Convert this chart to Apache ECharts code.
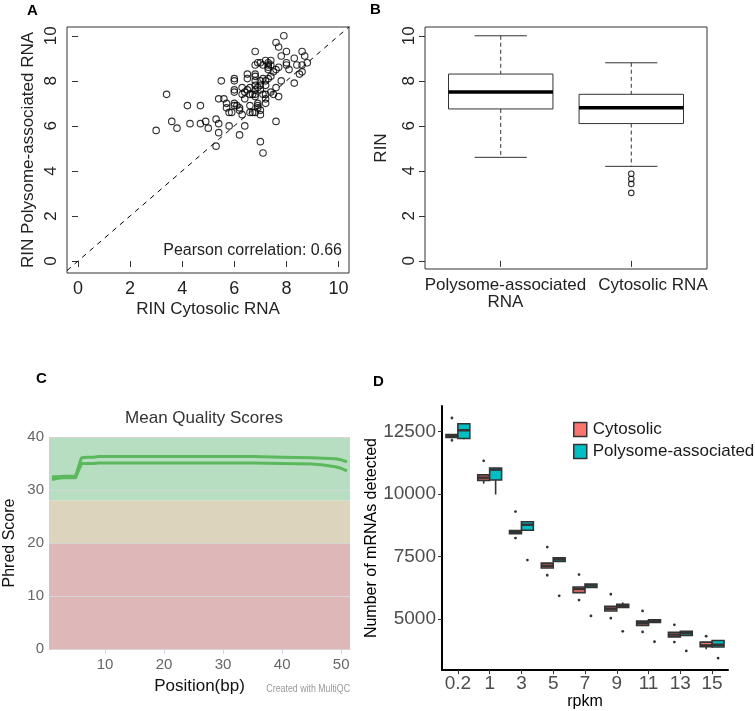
<!DOCTYPE html>
<html><head><meta charset="utf-8">
<script src="https://cdn.jsdelivr.net/npm/echarts@6/dist/echarts.min.js"></script>
<style>html,body{margin:0;padding:0;background:#fff}#c{width:755px;height:711px}</style>
</head><body><div id="c"></div>
<script>
// ---------------- DATA ----------------
// Panel A: RIN scatter
const rinCytosolic = [3.0,3.4,3.6,3.8,4.2,4.3,4.7,4.7,4.9,5.0,5.3,5.4,5.4,5.3,5.4,5.5,5.6,5.7,5.7,5.8,5.9,5.8,6.0,6.0,6.0,6.0,6.0,6.0,6.1,6.2,6.2,6.2,6.3,6.3,6.3,6.4,6.4,6.4,6.5,6.5,6.6,6.6,6.6,6.6,6.7,6.7,6.8,6.8,6.8,6.8,6.8,6.8,6.8,6.8,6.8,6.8,6.9,6.9,6.9,6.9,7.0,7.0,7.0,7.0,7.0,7.0,7.1,7.1,7.1,7.1,7.2,7.2,7.2,7.2,7.2,7.2,7.3,7.3,7.3,7.3,7.4,7.4,7.4,7.5,7.5,7.6,7.6,7.6,7.6,7.7,7.7,7.7,7.8,7.8,7.9,8.0,8.0,8.0,8.1,8.3,8.3,8.4,8.5,8.6,8.6,8.6,8.7,8.8,6.9,7.3,6.5,7.0,7.4];
const rinPolysome  = [5.8,7.4,6.2,5.9,6.9,6.1,6.9,6.1,6.2,5.9,6.3,6.1,5.7,5.1,7.2,8.0,7.2,7.0,6.8,6.6,6.6,6.0,8.1,8.0,7.6,7.5,7.0,6.9,6.9,6.8,6.7,5.6,6.5,7.7,7.4,6.0,7.2,7.5,8.3,8.1,7.4,7.7,6.9,6.6,6.6,7.4,9.3,8.7,8.3,8.2,8.0,7.8,7.6,7.4,7.3,6.6,7.7,7.0,6.9,6.8,8.8,8.0,7.6,6.7,6.5,5.3,4.8,8.1,7.4,8.7,8.9,8.0,7.8,7.4,7.2,7.0,8.8,8.6,8.5,8.1,8.9,8.7,8.2,8.4,7.4,9.7,8.5,7.7,6.2,9.5,8.6,7.3,9.1,8.0,10.0,9.3,8.8,8.7,8.5,9.0,7.9,8.7,8.3,9.3,8.7,8.4,9.1,8.8,8.8,8.7,7.6,7.8,7.5];
const identityLine = [[-1,-1],[11,11]];
const pearsonText = 'Pearson correlation: 0.66';

// Panel B: RIN boxplots  [x, lowerWhisker, Q1, median, Q3, upperWhisker]
const rinGroups = ['Polysome-associated\nRNA', 'Cytosolic RNA'];
const rinBoxes = [[1, 4.6, 6.75, 7.5, 8.3, 10.0], [2, 4.2, 6.1, 6.8, 7.4, 8.8]];
const rinOutliers = [[2, 3.87], [2, 3.64], [2, 3.42], [2, 3.02]];

// Panel C: Mean Quality Scores (FastQC / MultiQC)
const qcPositions = [1,2,3,4,5,6,7,8,9,10,15,20,25,30,35,40,45,47,49,50,51];
const qcSampleA = [32.5,32.5,32.6,32.6,32.6,36.1,36.2,36.2,36.3,36.3,36.3,36.3,36.3,36.3,36.3,36.2,36.1,36.0,35.9,35.7,35.3];
const qcSampleB = [32.0,32.2,32.3,32.3,32.3,35.0,35.0,35.0,35.1,35.1,35.1,35.1,35.1,35.1,35.1,35.0,34.9,34.7,34.4,34.1,33.6];
const phredBands = [[0, 20], [20, 28], [28, 40]];

// Panel D: mRNAs detected per rpkm threshold  [lowerWhisker, Q1, median, Q3, upperWhisker]
const rpkmCats = ['0.2','1','3','5','7','9','11','13','15'];
const cytoBoxes = [
  [12220,12250,12300,12370,12380],
  [10410,10540,10650,10760,10760],
  [8405,8410,8470,8535,8535],
  [7042,7042,7133,7238,7238],
  [6060,6060,6204,6283,6283],
  [5327,5327,5418,5510,5510],
  [4751,4751,4842,4921,4921],
  [4293,4293,4384,4476,4476],
  [3795,3900,3952,4083,4083]
];
const polyBoxes = [
  [12180,12213,12540,12802,12802],
  [9975,10553,10970,11035,11035],
  [8550,8550,8770,8890,8890],
  [7303,7303,7382,7447,7447],
  [6270,6270,6348,6400,6400],
  [5471,5471,5535,5589,5667],
  [4869,4869,4921,4974,5000],
  [4345,4345,4437,4515,4515],
  [3887,3887,3978,4148,4148]
];
const cytoOutliers = [['0.2',13030],['0.2',12140],['1',11322],['3',9296],['3',8236],['5',7879],['5',6753],['7',6780],['7',5759],['9',5994],['9',5039],['11',5327],['11',4489],['13',4772],['13',4083],['15',4319]];
const polyOutliers = [['3',7357],['5',5929],['7',5130],['9',4515],['11',4096],['13',3730],['15',3442]];

// ---------------- CHART ----------------
const FF = 'Liberation Sans, Arial, sans-serif';
const chart = echarts.init(document.getElementById('c'), null, {renderer: 'canvas'});

function rBox(params, api) {
  const x = api.value(0);
  const y = v => api.coord([x, v])[1];
  const cx = api.coord([x, api.value(3)])[0];
  const unit = api.size([1, 0])[0];
  const hw = unit * 0.4, cw = unit * 0.2;
  const lo = y(api.value(1)), q1 = y(api.value(2)), med = y(api.value(3)), q3 = y(api.value(4)), hi = y(api.value(5));
  const thin = {stroke: '#333', lineWidth: 1};
  return {type: 'group', children: [
    {type: 'line', shape: {x1: cx, y1: hi, x2: cx, y2: q3}, style: {stroke: '#333', lineWidth: 1, lineDash: [4, 3]}},
    {type: 'line', shape: {x1: cx, y1: q1, x2: cx, y2: lo}, style: {stroke: '#333', lineWidth: 1, lineDash: [4, 3]}},
    {type: 'line', shape: {x1: cx - cw, y1: hi, x2: cx + cw, y2: hi}, style: thin},
    {type: 'line', shape: {x1: cx - cw, y1: lo, x2: cx + cw, y2: lo}, style: thin},
    {type: 'rect', shape: {x: cx - hw, y: q3, width: 2 * hw, height: q1 - q3}, style: {fill: '#fff', stroke: '#333', lineWidth: 1}},
    {type: 'line', shape: {x1: cx - hw, y1: med, x2: cx + hw, y2: med}, style: {stroke: '#000', lineWidth: 3.5}}
  ]};
}

function ggBox(offset, fill) {
  return function (params, api) {
    const ci = api.value(0);
    const band = api.size([1, 0])[0];
    const cx = api.coord([ci, api.value(3)])[0] + offset * band;
    const hw = band * 0.1875;
    const y = v => api.coord([ci, v])[1];
    const lo = y(api.value(1)), q1 = y(api.value(2)), med = y(api.value(3)), q3 = y(api.value(4)), hi = y(api.value(5));
    const st = {stroke: '#333', lineWidth: 1.6};
    return {type: 'group', children: [
      {type: 'line', shape: {x1: cx, y1: hi, x2: cx, y2: q3}, style: st},
      {type: 'line', shape: {x1: cx, y1: q1, x2: cx, y2: lo}, style: st},
      {type: 'rect', shape: {x: cx - hw, y: q3, width: 2 * hw, height: Math.max(q1 - q3, 0.5)}, style: {fill: fill, stroke: '#333', lineWidth: 1.6}},
      {type: 'line', shape: {x1: cx - hw, y1: med, x2: cx + hw, y2: med}, style: {stroke: '#333', lineWidth: 2.5}}
    ]};
  };
}
function ggOut(offset) {
  return function (params, api) {
    const ci = api.value(0);
    const band = api.size([1, 0])[0];
    const p = api.coord([ci, api.value(1)]);
    return {type: 'circle', shape: {cx: p[0] + offset * band, cy: p[1], r: 1.4}, style: {fill: '#333'}};
  };
}

const CYTO = '#F8766D', POLY = '#00BFC4';

const option = {
  animation: false,
  backgroundColor: '#fff',
  textStyle: {fontFamily: FF},
  title: [{text: 'Mean Quality Scores', left: 199, top: 405, textAlign: 'center',
           textStyle: {fontFamily: FF, fontSize: 17, fontWeight: 'normal', color: '#333'}}],
  legend: {data: ['Cytosolic', 'Polysome-associated'], orient: 'vertical', left: 573, top: 421, padding: 0,
           itemGap: 5, itemWidth: 13, itemHeight: 14, icon: 'rect',
           itemStyle: {borderColor: '#333', borderWidth: 1.5},
           textStyle: {fontFamily: FF, fontSize: 17, color: '#1a1a1a', padding: [0, 0, 0, 1]}},
  grid: [
    {left: 67, top: 27, width: 282, height: 246, show: true, borderColor: '#333', borderWidth: 1, backgroundColor: 'transparent'},
    {left: 425, top: 27, width: 282, height: 242, show: true, borderColor: '#333', borderWidth: 1, backgroundColor: 'transparent'},
    {left: 49, top: 437, width: 301, height: 212},
    {left: 442, top: 406, width: 286, height: 268}
  ],
  xAxis: [
    {type: 'value', gridIndex: 0, min: -0.42, max: 10.4, splitLine: {show: false}, axisLine: {show: false},
     axisTick: {show: true, customValues: [0,2,4,6,8,10], length: 6, lineStyle: {color: '#333'}},
     axisLabel: {customValues: [0,2,4,6,8,10], fontSize: 18, color: '#222', margin: 7, fontFamily: FF},
     name: 'RIN Cytosolic RNA', nameLocation: 'middle', nameGap: 28, nameTextStyle: {fontSize: 17, color: '#222', fontFamily: FF}},
    {type: 'value', gridIndex: 1, min: 0.42, max: 2.58, splitLine: {show: false}, axisLine: {show: false},
     axisTick: {show: true, customValues: [1, 2], length: 6, lineStyle: {color: '#333'}},
     axisLabel: {customValues: [1.036, 2.166], fontSize: 17, lineHeight: 17, color: '#222', margin: 8, fontFamily: FF,
                 formatter: v => rinGroups[Math.round(v) - 1]}},
    {type: 'value', gridIndex: 2, min: 0.5, max: 51.5, splitLine: {show: false},
     axisLine: {show: true, lineStyle: {color: '#ccd6eb', width: 1}},
     axisTick: {show: true, customValues: [10,20,30,40,50], length: 5, lineStyle: {color: '#ccd6eb'}},
     axisLabel: {customValues: [10,20,30,40,50], fontSize: 15, color: '#666', margin: 8, fontFamily: FF},
     name: 'Position(bp)', nameLocation: 'middle', nameGap: 29, nameTextStyle: {fontSize: 17, color: '#111', fontFamily: FF}},
    {type: 'category', gridIndex: 3, data: rpkmCats, boundaryGap: true,
     axisLine: {show: true, lineStyle: {color: '#000', width: 2}},
     axisTick: {show: true, alignWithLabel: true, length: 4, lineStyle: {color: '#333', width: 1}},
     axisLabel: {fontSize: 19, color: '#4d4d4d', margin: 4, fontFamily: FF, interval: 0},
     name: 'rpkm', nameLocation: 'middle', nameGap: 18, nameTextStyle: {fontSize: 16, color: '#000', fontFamily: FF}}
  ],
  yAxis: [
    {type: 'value', gridIndex: 0, min: -0.53, max: 10.39, splitLine: {show: false}, axisLine: {show: false},
     axisTick: {show: true, customValues: [0,2,4,6,8,10], length: 6, lineStyle: {color: '#333'}},
     axisLabel: {customValues: [0,2,4,6,8,10], rotate: 90, fontSize: 17, color: '#222', margin: 7, fontFamily: FF},
     name: 'RIN Polysome-associated RNA', nameLocation: 'middle', nameGap: 30, nameTextStyle: {fontSize: 17, color: '#222', fontFamily: FF}},
    {type: 'value', gridIndex: 1, min: -0.36, max: 10.39, splitLine: {show: false}, axisLine: {show: false},
     axisTick: {show: true, customValues: [0,2,4,6,8,10], length: 6, lineStyle: {color: '#333'}},
     axisLabel: {customValues: [0,2,4,6,8,10], rotate: 90, fontSize: 17, color: '#222', margin: 7, fontFamily: FF},
     name: 'RIN', nameLocation: 'middle', nameGap: 35, nameTextStyle: {fontSize: 17, color: '#222', fontFamily: FF}},
    {type: 'value', gridIndex: 2, min: 0, max: 40, interval: 10, z: 3,
     splitLine: {show: true, lineStyle: {color: '#d6d6d6', width: 1}}, axisLine: {show: false}, axisTick: {show: false},
     axisLabel: {fontSize: 15, color: '#666', margin: 5, fontFamily: FF},
     name: 'Phred Score', nameLocation: 'middle', nameGap: 31, nameTextStyle: {fontSize: 16, color: '#111', fontFamily: FF}},
    {type: 'value', gridIndex: 3, min: 2965, max: 13510, splitLine: {show: false},
     axisLine: {show: true, lineStyle: {color: '#000', width: 2}},
     axisTick: {show: true, customValues: [5000,7500,10000,12500], length: 4, lineStyle: {color: '#333'}},
     axisLabel: {customValues: [5000,7500,10000,12500], fontSize: 19, color: '#4d4d4d', margin: 6, fontFamily: FF,
                 formatter: v => String(v)},
     name: 'Number of mRNAs detected', nameLocation: 'middle', nameGap: 57, nameTextStyle: {fontSize: 16, color: '#000', fontFamily: FF}}
  ],
  series: [
    // A
    {type: 'line', xAxisIndex: 0, yAxisIndex: 0, data: identityLine, symbol: 'none', silent: true,
     lineStyle: {color: '#000', width: 1, type: [5, 5]}, clip: true},
    {type: 'scatter', xAxisIndex: 0, yAxisIndex: 0, data: rinCytosolic.map((x, i) => [x, rinPolysome[i]]),
     symbol: 'circle', symbolSize: 6.5, itemStyle: {color: 'rgba(0,0,0,0)', borderColor: '#000', borderWidth: 1.1}},
    // B
    {type: 'custom', xAxisIndex: 1, yAxisIndex: 1, data: rinBoxes, renderItem: rBox, encode: {x: 0, y: [1,2,3,4,5]}},
    {type: 'scatter', xAxisIndex: 1, yAxisIndex: 1, data: rinOutliers, symbol: 'circle', symbolSize: 5.5,
     itemStyle: {color: 'rgba(0,0,0,0)', borderColor: '#000', borderWidth: 1.1}},
    // C
    {type: 'line', xAxisIndex: 2, yAxisIndex: 2, data: [], z: 1, silent: true,
     markArea: {silent: true, data: phredBands.map((b, i) => [
       {yAxis: b[0], itemStyle: {color: ['#deb8b9', '#ddd4bd', '#b8dec2'][i]}}, {yAxis: b[1]}])}},
    {type: 'line', xAxisIndex: 2, yAxisIndex: 2, z: 4, data: qcPositions.map((p, i) => [p, qcSampleA[i]]),
     symbol: 'none', lineStyle: {color: '#5cb85c', width: 3}},
    {type: 'line', xAxisIndex: 2, yAxisIndex: 2, z: 4, data: qcPositions.map((p, i) => [p, qcSampleB[i]]),
     symbol: 'none', lineStyle: {color: '#5cb85c', width: 3}},
    // D
    {name: 'Cytosolic', type: 'custom', xAxisIndex: 3, yAxisIndex: 3, itemStyle: {color: CYTO},
     data: cytoBoxes.map((b, i) => [i].concat(b)), renderItem: ggBox(-0.1875, CYTO), encode: {x: 0, y: [1,2,3,4,5]}},
    {name: 'Polysome-associated', type: 'custom', xAxisIndex: 3, yAxisIndex: 3, itemStyle: {color: POLY},
     data: polyBoxes.map((b, i) => [i].concat(b)), renderItem: ggBox(0.1875, POLY), encode: {x: 0, y: [1,2,3,4,5]}},
    {name: 'cyto-out', type: 'custom', xAxisIndex: 3, yAxisIndex: 3,
     data: cytoOutliers.map(o => [rpkmCats.indexOf(o[0]), o[1]]), renderItem: ggOut(-0.1875), encode: {x: 0, y: 1}},
    {name: 'poly-out', type: 'custom', xAxisIndex: 3, yAxisIndex: 3,
     data: polyOutliers.map(o => [rpkmCats.indexOf(o[0]), o[1]]), renderItem: ggOut(0.1875), encode: {x: 0, y: 1}}
  ],
  graphic: [
    {type: 'text', left: 27, top: 3, style: {text: 'A', font: 'bold 15px ' + FF, fill: '#000'}},
    {type: 'text', left: 370, top: 2, style: {text: 'B', font: 'bold 15px ' + FF, fill: '#000'}},
    {type: 'text', left: 36, top: 371, style: {text: 'C', font: 'bold 15px ' + FF, fill: '#000'}},
    {type: 'text', left: 373, top: 374, style: {text: 'D', font: 'bold 15px ' + FF, fill: '#000'}},
    {type: 'text', right: 755 - 342, top: 243, style: {text: pearsonText, font: '16px ' + FF, fill: '#222'}},
    {type: 'text', x: 350, y: 689, scaleX: 0.8, style: {text: 'Created with MultiQC', font: '11px ' + FF, fill: '#999',
     textAlign: 'right', textVerticalAlign: 'middle'}}
  ]
};
chart.setOption(option);
</script></body></html>
